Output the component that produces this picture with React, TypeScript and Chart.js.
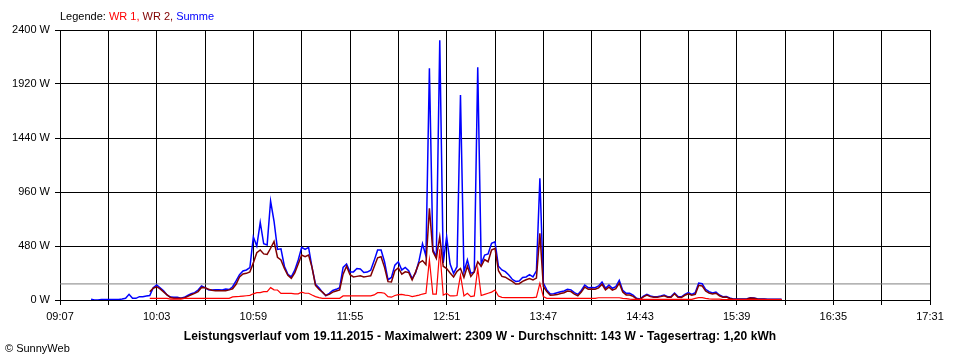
import React, { useEffect, useRef } from "react";
import { Chart, registerables } from "chart.js";

Chart.register(...registerables);

// ---- Data ----
const START_TIME = "09:25"; // first logged sample
const INTERVAL_MIN = 2; // logging interval in minutes
const AXIS_START = "09:07";
const AXIS_END = "17:31";
const X_GRID_STEP_MIN = 28;
const X_LABEL_STEP_MIN = 56;
const Y_MAX = 2400;
const Y_STEP = 480;
const AVERAGE_W = 143;

const SUMME = [
  6, 0, 0, 5, 5, 5, 5, 5, 5, 8,
  15, 50, 15, 15, 30, 30, 35, 40, 110, 133,
  108, 82, 45, 26, 24, 24, 15, 24, 40, 55,
  65, 89, 125, 110, 92, 89, 92, 92, 89, 97,
  93, 118, 170, 225, 258, 267, 288, 560, 480, 690,
  500, 490, 880, 700, 450, 455, 300, 228, 205, 265,
  356, 468, 450, 468, 290, 140, 108, 70, 38, 60,
  85, 95, 110, 290, 320, 250, 250, 280, 275, 245,
  248, 265, 350, 445, 445, 340, 180, 200, 310, 340,
  267, 290, 260, 190, 240, 350, 500, 390, 2060, 450,
  380, 2309, 330, 563, 320, 237, 296, 1822, 250, 356,
  237, 250, 2068, 320, 400, 410, 504, 518, 300, 267,
  252, 222, 184, 165, 168, 200, 205, 225, 205, 260,
  1081, 150, 90, 53, 55, 65, 74, 80, 95, 90,
  65, 50, 85, 133, 110, 112, 110, 125, 160, 105,
  133, 104, 118, 175, 85, 59, 59, 44, 15, 9,
  35, 50, 36, 30, 30, 35, 45, 30, 30, 62,
  30, 28, 50, 65, 50, 65, 150, 145, 95, 74,
  62, 70, 44, 30, 32, 18, 9, 9, 9, 9,
  12, 21, 18, 12, 9, 9, 6, 6, 6, 6,
  6,
];

const WR2 = [
  null, null, null, null, null, null, null, null, null, null,
  null, null, null, null, null, null, null, 74, 105, 118,
  98, 72, 45, 22, 15, 15, 15, 18, 32, 47,
  59, 75, 112, 108, 95, 87, 83, 83, 83, 83,
  90, 100, 140, 205, 232, 237, 250, 330, 420, 445,
  410, 405, 460, 520, 380, 356, 280, 220, 193, 240,
  320, 400, 385, 400, 290, 130, 95, 70, 40, 50,
  70, 80, 90, 230, 300, 225, 205, 210, 215, 205,
  210, 215, 296, 375, 385, 290, 163, 160, 260, 285,
  230, 250, 245, 178, 250, 330, 350, 315, 815, 430,
  370, 563, 300, 280, 240, 205, 255, 280, 200, 300,
  210, 250, 340, 300, 360, 340, 444, 459, 260, 210,
  203, 184, 165, 142, 145, 165, 180, 190, 178, 195,
  593, 120, 75, 42, 44, 48, 58, 65, 80, 75,
  52, 38, 70, 115, 95, 97, 95, 108, 140, 90,
  115, 88, 100, 150, 70, 45, 44, 32, 10, 5,
  28, 44, 30, 25, 25, 30, 38, 25, 25, 55,
  25, 22, 42, 56, 42, 50, 130, 125, 80, 62,
  53, 60, 38, 25, 27, 14, 6, 6, 6, 6,
  9, 18, 15, 9, 6, 6, 4, 4, 4, 4,
  4,
];

const WR1 = [
  null, null, null, null, null, null, null, null, null, null,
  null, null, null, null, null, null, null, 15, 15, 15,
  15, 15, 15, 8, 8, 8, 8, 15, 15, 15,
  15, 15, 15, 15, 15, 15, 15, 15, 15, 15,
  15, 28, 30, 32, 35, 38, 41, 55, 65, 65,
  75, 74, 110, 90, 89, 59, 59, 59, 59, 55,
  55, 70, 60, 60, 44, 30, 21, 15, 15, 15,
  15, 15, 15, 36, 36, 36, 36, 36, 36, 36,
  36, 36, 45, 65, 65, 60, 30, 25, 40, 48,
  50, 44, 40, 30, 36, 44, 53, 59, 356, 53,
  53, 450, 44, 59, 36, 36, 40, 222, 36, 59,
  30, 36, 281, 40, 50, 60, 70, 89, 36, 24,
  21, 21, 21, 21, 21, 21, 21, 21, 21, 25,
  148, 30, 15, 15, 15, 15, 15, 15, 15, 15,
  15, 15, 15, 15, 15, 15, 15, 20, 20, 20,
  20, 20, 20, 20, 15, 12, 8, 6, 5, 5,
  5, 5, 5, 5, 5, 5, 5, 5, 5, 5,
  5, 5, 5, 5, 5, 15, 21, 21, 15, 10,
  8, 8, 8, 4, 4, 4, 4, 4, 4, 4,
  4, 4, 4, 4, 4, 4, 4, 4, 4, 4,
  4,
];

const LEGEND_PARTS: [string, string][] = [
  ["Legende: ", "#000000"],
  ["WR 1, ", "#ff0000"],
  ["WR 2, ", "#800000"],
  ["Summe", "#0000ff"],
];
const TITLE =
  "Leistungsverlauf vom 19.11.2015 - Maximalwert: 2309 W - Durchschnitt: 143 W - Tagesertrag: 1,20 kWh";
const COPYRIGHT = "\u00a9 SunnyWeb";

// ---- helpers ----
const toMin = (t: string) => {
  const [h, m] = t.split(":").map(Number);
  return h * 60 + m;
};
const fmt = (v: number) => {
  const h = Math.floor(v / 60);
  const m = Math.round(v - h * 60);
  return String(h).padStart(2, "0") + ":" + String(m).padStart(2, "0");
};
const toPoints = (arr: (number | null)[]) =>
  arr.map((y, i) => ({ x: toMin(START_TIME) + i * INTERVAL_MIN, y }));

const FONT = '"Liberation Sans", Arial, sans-serif';

const textPlugin = {
  id: "sunnyText",
  afterDraw(chart: any) {
    const ctx = chart.ctx as any;
    ctx.save();
    ctx.textBaseline = "middle";
    ctx.textAlign = "left";
    ctx.font = "11px " + FONT;
    let x = chart.chartArea.left;
    for (const [t, c] of LEGEND_PARTS) {
      ctx.fillStyle = c;
      ctx.fillText(t, x, 17);
      x += ctx.measureText(t).width;
    }
    ctx.fillStyle = "#000000";
    ctx.font = "bold 12px " + FONT;
    ctx.textAlign = "center";
    ctx.letterSpacing = "0.1px";
    ctx.fillText(TITLE, 480, 337);
    ctx.letterSpacing = "0px";
    ctx.font = "11px " + FONT;
    ctx.textAlign = "left";
    ctx.fillText(COPYRIGHT, 5, 349);
    ctx.restore();
  },
};

export default function App() {
  const ref = useRef<HTMLCanvasElement | null>(null);

  useEffect(() => {
    document.body.style.margin = "0";
    const canvas = ref.current;
    if (!canvas) return;
    const xMin = toMin(AXIS_START);
    const xMax = toMin(AXIS_END);
    const chart = new Chart(canvas, {
      type: "line",
      data: {
        datasets: [
          {
            label: "WR 1",
            data: toPoints(WR1),
            borderColor: "#ff0000",
            borderWidth: 1.2,
          },
          {
            label: "WR 2",
            data: toPoints(WR2),
            borderColor: "#800000",
            borderWidth: 1.5,
          },
          {
            label: "Summe",
            data: toPoints(SUMME),
            borderColor: "#0000ff",
            borderWidth: 1.5,
          },
          {
            label: "Durchschnitt",
            data: [
              { x: xMin, y: AVERAGE_W },
              { x: xMax, y: AVERAGE_W },
            ],
            borderColor: "#808080",
            borderWidth: 1,
          },
        ],
      },
      options: {
        animation: false,
        responsive: false,
        events: [],
        parsing: false,
        layout: { padding: { left: 0, right: 30, top: 30, bottom: 0 } },
        plugins: {
          legend: { display: false },
          tooltip: { enabled: false },
          title: { display: false },
        },
        elements: {
          point: { radius: 0 },
          line: { tension: 0, fill: false },
        },
        scales: {
          x: {
            type: "linear",
            min: xMin,
            max: xMax,
            afterFit: (s: any) => {
              s.height = 60;
            },
            grid: {
              color: "#000000",
              lineWidth: 1,
              tickLength: 5,
              tickColor: "#000000",
            },
            border: { color: "#000000", width: 1 },
            ticks: {
              stepSize: X_GRID_STEP_MIN,
              autoSkip: false,
              maxRotation: 0,
              minRotation: 0,
              padding: 5,
              color: "#000000",
              font: { family: FONT, size: 11 },
              callback: (v: any) =>
                (Number(v) - xMin) % X_LABEL_STEP_MIN === 0 ? fmt(Number(v)) : "",
            },
          },
          y: {
            type: "linear",
            min: 0,
            max: Y_MAX,
            afterFit: (s: any) => {
              s.width = 60;
            },
            grid: {
              color: "#000000",
              lineWidth: 1,
              tickLength: 5,
              tickColor: "#000000",
            },
            border: { color: "#000000", width: 1 },
            ticks: {
              stepSize: Y_STEP,
              padding: 5,
              color: "#000000",
              font: { family: FONT, size: 11 },
              callback: (v: any) => v + " W",
            },
          },
        },
      },
      plugins: [textPlugin],
    } as any);
    return () => chart.destroy();
  }, []);

  return (
    <div style={{ width: 960, height: 360, background: "#ffffff" }}>
      <canvas ref={ref} width={960} height={360} />
    </div>
  );
}
